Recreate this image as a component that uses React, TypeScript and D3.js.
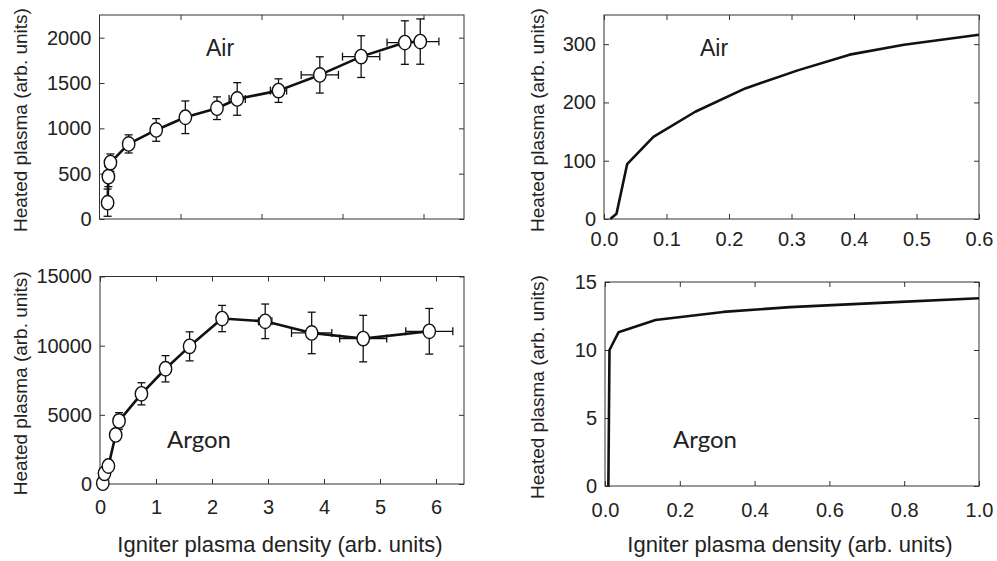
import React, { useRef, useEffect } from "react";
import * as d3 from "d3";

// measured data (left panels), with error bars
const airX = [0.1, 0.11, 0.135, 0.36, 0.7, 1.06, 1.45, 1.7, 2.21, 2.72, 3.23, 3.77, 3.96];
const airY = [180, 467, 622, 828, 982, 1122, 1222, 1324, 1416, 1589, 1791, 1946, 1957];
const airYErr = [150, 110, 95, 100, 125, 180, 125, 180, 130, 200, 230, 240, 250];
const airXErr = [0, 0, 0, 0, 0, 0, 0.05, 0.1, 0.1, 0.23, 0.23, 0.22, 0.23];

const argonX = [0.05, 0.08, 0.15, 0.28, 0.34, 0.74, 1.17, 1.6, 2.18, 2.95, 3.78, 4.7, 5.88];
const argonY = [60, 770, 1300, 3550, 4560, 6520, 8330, 9950, 11960, 11760, 10920, 10510, 11040];
const argonYErr = [0, 0, 0, 0, 600, 800, 950, 1050, 950, 1250, 1500, 1680, 1650];
const argonXErr = [0, 0, 0, 0, 0, 0, 0, 0, 0, 0.12, 0.36, 0.42, 0.42];

// model curves (right panels)
const airModelX = [0.01, 0.02, 0.037, 0.079, 0.146, 0.226, 0.31, 0.393, 0.48, 0.6];
const airModelY = [0, 9, 94, 141, 184, 224, 255, 282, 299, 316];

const argonModelX = [0.009, 0.012, 0.036, 0.135, 0.316, 0.495, 0.762, 1.0];
const argonModelY = [0, 10.0, 11.3, 12.2, 12.8, 13.15, 13.5, 13.8];

// ticks
const airTicksX = [1, 2, 3, 4];
const airTicksY = [0, 500, 1000, 1500, 2000];
const argonTicksX = [0, 1, 2, 3, 4, 5, 6];
const argonTicksY = [0, 5000, 10000, 15000];
const airModelTicksX = [0, 0.1, 0.2, 0.3, 0.4, 0.5, 0.6];
const airModelTicksY = [0, 100, 200, 300];
const argonModelTicksX = [0, 0.2, 0.4, 0.6, 0.8, 1.0];
const argonModelTicksY = [0, 5, 10, 15];

const SANS = "'Liberation Sans', Arial, Helvetica, sans-serif";
const XLABEL = "Igniter plasma density (arb. units)";
const YLABEL = "Heated plasma (arb. units)";

export default function App() {
  const svgRef = useRef<SVGSVGElement>(null);

  useEffect(() => {
    const root = d3.select(svgRef.current);
    root.selectAll("*").remove();

    function panel(cfg: any) {
      const { left, right, top, bottom } = cfg;
      const x = d3.scaleLinear().domain(cfg.xDomain).range([left, right]);
      const y = d3.scaleLinear().domain(cfg.yDomain).range([bottom, top]);
      const g = root.append("g");

      // axes with inward ticks
      const bx = g.append("g")
        .attr("transform", `translate(0,${bottom})`)
        .call(d3.axisBottom(x).tickValues(cfg.xTicks).tickSizeInner(-5).tickSizeOuter(0)
          .tickPadding(cfg.xPad).tickFormat(cfg.xFormat));
      g.append("g")
        .attr("transform", `translate(0,${top})`)
        .call(d3.axisTop(x).tickValues(cfg.xTicks).tickSizeInner(-5).tickSizeOuter(0).tickFormat(() => ""));
      const ly = g.append("g")
        .attr("transform", `translate(${left},0)`)
        .call(d3.axisLeft(y).tickValues(cfg.yTicks).tickSizeInner(-5).tickSizeOuter(0)
          .tickPadding(8).tickFormat(d3.format("d")));
      g.append("g")
        .attr("transform", `translate(${right},0)`)
        .call(d3.axisRight(y).tickValues(cfg.yTicks).tickSizeInner(-5).tickSizeOuter(0).tickFormat(() => ""));

      g.selectAll(".domain").remove();
      g.selectAll(".tick line").attr("stroke", "#333").attr("stroke-width", 1);
      [bx, ly].forEach(a => a.selectAll("text")
        .attr("fill", "#222")
        .style("font-family", SANS)
        .style("font-size", "20px"));

      g.append("rect")
        .attr("x", left).attr("y", top)
        .attr("width", right - left).attr("height", bottom - top)
        .attr("fill", "none").attr("stroke", "#333").attr("stroke-width", 1);

      const pts = cfg.xs.map((v: number, i: number) => ({
        x: v, y: cfg.ys[i],
        ex: cfg.xErr ? cfg.xErr[i] : 0,
        ey: cfg.yErr ? cfg.yErr[i] : 0,
      }));

      // error bars
      if (cfg.markers) {
        const eb = g.append("g").attr("stroke", "#111").attr("stroke-width", 1.3).attr("fill", "none");
        pts.forEach((d: any) => {
          if (d.ey > 0) {
            const x0 = x(d.x), y1 = y(d.y - d.ey), y2 = y(d.y + d.ey);
            eb.append("line").attr("x1", x0).attr("x2", x0).attr("y1", y1).attr("y2", y2);
            eb.append("line").attr("x1", x0 - 4).attr("x2", x0 + 4).attr("y1", y1).attr("y2", y1);
            eb.append("line").attr("x1", x0 - 4).attr("x2", x0 + 4).attr("y1", y2).attr("y2", y2);
          }
          if (d.ex > 0) {
            const y0 = y(d.y), x1 = x(d.x - d.ex), x2 = x(d.x + d.ex);
            eb.append("line").attr("x1", x1).attr("x2", x2).attr("y1", y0).attr("y2", y0);
            eb.append("line").attr("x1", x1).attr("x2", x1).attr("y1", y0 - 4).attr("y2", y0 + 4);
            eb.append("line").attr("x1", x2).attr("x2", x2).attr("y1", y0 - 4).attr("y2", y0 + 4);
          }
        });
      }

      const line = d3.line<any>().x(d => x(d.x)).y(d => y(d.y));
      g.append("path")
        .datum(pts)
        .attr("fill", "none")
        .attr("stroke", "#111")
        .attr("stroke-width", 2.6)
        .attr("stroke-linejoin", "round")
        .attr("d", line);

      if (cfg.markers) {
        g.selectAll(".mk")
          .data(pts)
          .enter().append("ellipse")
          .attr("class", "mk")
          .attr("cx", (d: any) => x(d.x))
          .attr("cy", (d: any) => y(d.y))
          .attr("rx", 6.2)
          .attr("ry", 7.2)
          .attr("fill", "white")
          .attr("stroke", "#111")
          .attr("stroke-width", 1.4);
      }

      // inner label
      g.append("text")
        .attr("x", cfg.label.x)
        .attr("y", cfg.label.y)
        .attr("text-anchor", "middle")
        .attr("fill", "#222")
        .style("font-family", cfg.label.font)
        .style("font-size", cfg.label.size + "px")
        .text(cfg.label.text);

      // y label
      g.append("text")
        .attr("transform", `translate(${cfg.yLabelX},${(top + bottom) / 2 + 3}) rotate(-90)`)
        .attr("text-anchor", "middle")
        .attr("dy", "0.35em")
        .attr("fill", "#222")
        .style("font-family", SANS)
        .style("font-size", "19px")
        .text(YLABEL);

      if (cfg.xLabel) {
        g.append("text")
          .attr("x", (left + right) / 2 - 2)
          .attr("y", 552)
          .attr("text-anchor", "middle")
          .attr("fill", "#222")
          .style("font-family", SANS)
          .style("font-size", "22px")
          .text(XLABEL);
      }
    }

    panel({
      left: 99.5, right: 464, top: 15, bottom: 219,
      xDomain: [0, 4.5], yDomain: [0, 2250],
      xTicks: airTicksX, yTicks: airTicksY, xPad: 10, xFormat: () => "",
      xs: airX, ys: airY, xErr: airXErr, yErr: airYErr, markers: true,
      label: { text: "Air", x: 220, y: 56, size: 23, font: SANS },
      yLabelX: 20,
    });
    panel({
      left: 100, right: 464, top: 276.5, bottom: 484,
      xDomain: [0, 6.5], yDomain: [0, 15000],
      xTicks: argonTicksX, yTicks: argonTicksY, xPad: 16, xFormat: d3.format("d"),
      xs: argonX, ys: argonY, xErr: argonXErr, yErr: argonYErr, markers: true,
      label: { text: "Argon", x: 199, y: 448, size: 24, font: "Lato, 'Noto Sans', sans-serif" },
      yLabelX: 20, xLabel: true,
    });
    panel({
      left: 604, right: 979, top: 15, bottom: 219,
      xDomain: [0, 0.6], yDomain: [0, 350],
      xTicks: airModelTicksX, yTicks: airModelTicksY, xPad: 13, xFormat: d3.format(".1f"),
      xs: airModelX, ys: airModelY, markers: false,
      label: { text: "Air", x: 714, y: 56, size: 23, font: SANS },
      yLabelX: 537,
    });
    panel({
      left: 605, right: 979, top: 282, bottom: 486,
      xDomain: [0, 1.0], yDomain: [0, 15],
      xTicks: argonModelTicksX, yTicks: argonModelTicksY, xPad: 17, xFormat: d3.format(".1f"),
      xs: argonModelX, ys: argonModelY, markers: false,
      label: { text: "Argon", x: 705, y: 448, size: 24, font: "Lato, 'Noto Sans', sans-serif" },
      yLabelX: 537, xLabel: true,
    });
  }, []);

  return (
    <svg
      ref={svgRef}
      width={997}
      height={561}
      style={{ position: "absolute", left: 0, top: 0, background: "white" }}
    />
  );
}
